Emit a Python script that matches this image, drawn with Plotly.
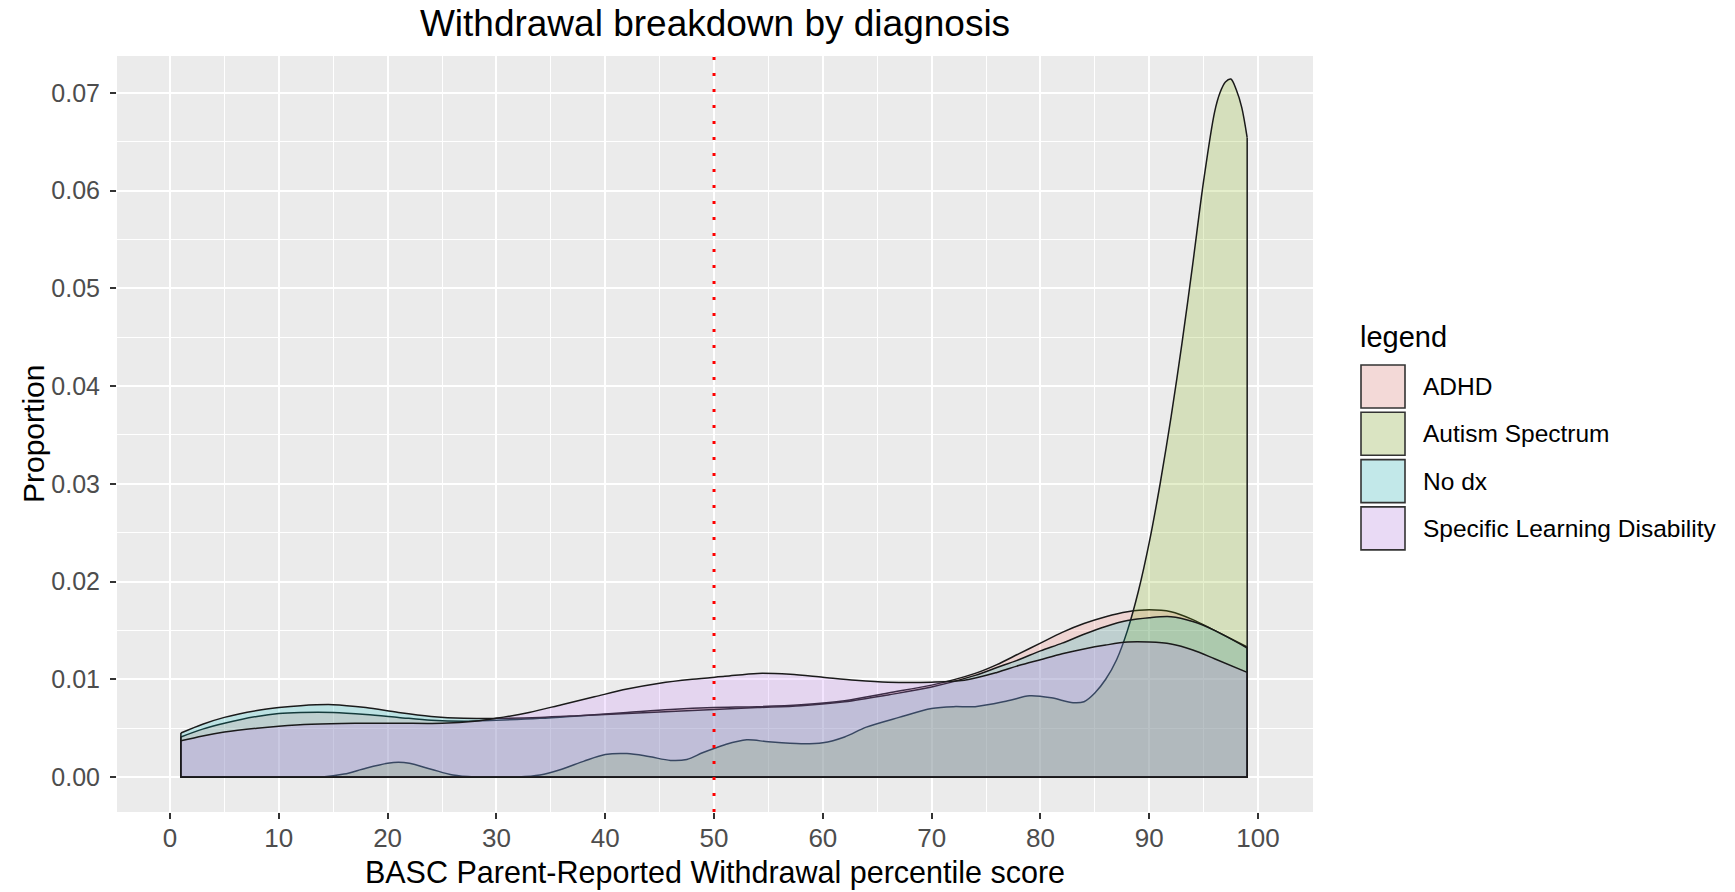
import plotly.graph_objects as go

# ---------------- data ----------------
CATEGORIES = ["ADHD", "Autism Spectrum", "No dx", "Specific Learning Disability"]
COLORS = ["#F8766D", "#7CAE00", "#00BFC4", "#C77CFF"]

ADHD_X = [1, 3, 5, 8, 10, 12, 15, 18, 21, 24, 27, 30, 34, 38, 42, 46, 50, 54, 58, 62,
          66, 70, 74, 76, 78, 80, 82, 84, 86, 88, 90, 92, 94, 96, 99]
ADHD_Y = [0.0041, 0.0049, 0.0055, 0.0062, 0.0065, 0.0066, 0.0066, 0.0064, 0.0061, 0.0058,
          0.0057, 0.0058, 0.0060, 0.0063, 0.0066, 0.0069, 0.0071, 0.0072, 0.0074, 0.0078,
          0.0086, 0.0094, 0.0106, 0.0115, 0.0126, 0.0137, 0.0148, 0.0157, 0.0164, 0.0169,
          0.0171, 0.0169, 0.0161, 0.0150, 0.0133]

NODX_X = [1, 3, 5, 8, 10, 12, 15, 18, 21, 24, 27, 30, 34, 38, 42, 46, 50, 54, 58, 62,
          66, 70, 74, 76, 78, 80, 82, 84, 86, 88, 90, 92, 94, 96, 99]
NODX_Y = [0.0045, 0.0054, 0.0061, 0.0068, 0.0071, 0.0073, 0.0074, 0.0071, 0.0066, 0.0062,
          0.0060, 0.0060, 0.0061, 0.0063, 0.0065, 0.0067, 0.0069, 0.0071, 0.0073, 0.0077,
          0.0084, 0.0092, 0.0104, 0.0112, 0.0120, 0.0129, 0.0137, 0.0146, 0.0154, 0.0160,
          0.0163, 0.0164, 0.0159, 0.0150, 0.0132]

SLD_X = [1, 3, 5, 8, 10, 13, 17, 21, 25, 28, 30, 33, 36, 39, 42, 45, 48, 51, 54, 57,
         60, 63, 66, 70, 73, 76, 78, 80, 82, 84, 86, 88, 90, 92, 94, 96, 99]
SLD_Y = [0.0037, 0.0042, 0.0046, 0.0050, 0.0052, 0.0054, 0.0055, 0.0055, 0.0055, 0.0057,
         0.0060, 0.0066, 0.0074, 0.0082, 0.0090, 0.0096, 0.0100, 0.0103, 0.0106, 0.0105,
         0.0102, 0.0099, 0.0097, 0.0097, 0.0099, 0.0107, 0.0114, 0.0120, 0.0126, 0.0131,
         0.0135, 0.0138, 0.0138, 0.0136, 0.0130, 0.0121, 0.0107]

AUT_X = [1, 6, 11, 14, 16, 18, 20, 21, 22, 24, 26, 28, 30, 32, 34, 36, 38, 40, 42, 44,
         46, 47.5, 49, 51, 53, 55, 58, 60, 62, 64, 67, 70, 72, 74, 77, 79, 81, 83, 84, 85,
         86, 87, 88, 89, 90, 91, 92, 93, 94, 95, 96, 96.5, 97, 97.5, 98, 98.5, 99]
AUT_Y = [0, 0, 0, 0, 0.0003, 0.0009, 0.0014, 0.0015, 0.0014, 0.0008,
         0.0002, 0, 0, 0, 0.0002, 0.0008, 0.0016, 0.0023, 0.0024, 0.0021,
         0.0017, 0.0018, 0.0025, 0.0033, 0.0038, 0.0036, 0.0034, 0.0035, 0.0041, 0.0051,
         0.0061, 0.0070, 0.0072, 0.0072, 0.0078, 0.0083, 0.0081, 0.0076, 0.0077, 0.0086,
         0.0100, 0.0120, 0.0150, 0.0190, 0.0240, 0.0300, 0.0368, 0.0443, 0.0525, 0.0610,
         0.0680, 0.0700, 0.0711, 0.0714, 0.0703, 0.0685, 0.0654]

SERIES_X = [ADHD_X, AUT_X, NODX_X, SLD_X]
SERIES_Y = [ADHD_Y, AUT_Y, NODX_Y, SLD_Y]

CUTOFF = 50
X_TICKS = [0, 10, 20, 30, 40, 50, 60, 70, 80, 90, 100]
Y_TICKS = [0.00, 0.01, 0.02, 0.03, 0.04, 0.05, 0.06, 0.07]
Y_TICK_LABELS = ["0.00", "0.01", "0.02", "0.03", "0.04", "0.05", "0.06", "0.07"]

TITLE = "Withdrawal breakdown by diagnosis"
X_TITLE = "BASC Parent-Reported Withdrawal percentile score"
Y_TITLE = "Proportion"
LEGEND_TITLE = "legend"

# ---------------- styling ----------------
FONT = "Liberation Sans, Arial, sans-serif"
ALPHA = 0.2
W, H = 1735, 892
L, R, T, B = 117, 422, 56, 80
PANEL_BG = "#EBEBEB"
OUTLINE = "#1a1a1a"


def hex_rgb(h):
    h = h.lstrip("#")
    return tuple(int(h[i:i + 2], 16) for i in (0, 2, 4))


def rgba(h, a):
    r, g, b = hex_rgb(h)
    return f"rgba({r},{g},{b},{a})"


def blend(h, a, bg=(242, 242, 242)):
    r, g, b = hex_rgb(h)
    return "rgb({},{},{})".format(*[round(a * c + (1 - a) * k) for c, k in zip((r, g, b), bg)])


fig = go.Figure()

for name, col, xs, ys in zip(CATEGORIES, COLORS, SERIES_X, SERIES_Y):
    fig.add_trace(go.Scatter(
        x=xs, y=ys, name=name, mode="lines",
        line=dict(color=OUTLINE, width=1.5, shape="spline", smoothing=0.9),
        fill="tozeroy", fillcolor=rgba(col, ALPHA),
        showlegend=False, hoverinfo="x+y+name",
    ))
    # closing edges of the density polygon (left edge, baseline, right edge)
    fig.add_trace(go.Scatter(
        x=[xs[0], xs[0], xs[-1], xs[-1]], y=[ys[0], 0, 0, ys[-1]],
        mode="lines", line=dict(color=OUTLINE, width=1.5),
        showlegend=False, hoverinfo="skip",
    ))

# red dotted cut-off line
fig.add_shape(type="line", xref="x", yref="paper", x0=CUTOFF, x1=CUTOFF, y0=0, y1=1,
              line=dict(color="red", width=3, dash="3px,13px"), layer="above")

# ---------------- manual ggplot-style legend (page pixel positions) ----------------
pw = W - L - R
ph = H - T - B


def px_to_paper_x(px):
    return (px - L) / pw


def px_to_paper_y(py):
    return (H - B - py) / ph


key_left, key_w, key_h, key_step, key_top0 = 1361, 44, 43, 47.3, 365
fig.add_annotation(text=LEGEND_TITLE, xref="paper", yref="paper",
                   x=px_to_paper_x(1358), y=px_to_paper_y(337), xanchor="left", yanchor="middle",
                   showarrow=False, font=dict(family=FONT, size=29, color="black"))
for i, (name, col) in enumerate(zip(CATEGORIES, COLORS)):
    top = key_top0 + i * key_step
    fig.add_shape(type="rect", xref="paper", yref="paper",
                  x0=px_to_paper_x(key_left), x1=px_to_paper_x(key_left + key_w),
                  y0=px_to_paper_y(top + key_h), y1=px_to_paper_y(top),
                  fillcolor=blend(col, ALPHA), line=dict(color="#333333", width=1.6), layer="above")
    fig.add_annotation(text=name, xref="paper", yref="paper",
                       x=px_to_paper_x(1421), y=px_to_paper_y(top + key_h / 2),
                       xanchor="left", yanchor="middle", showarrow=False,
                       font=dict(family=FONT, size=24.5, color="black"))

# y-axis title placed like ggplot's (close to the tick labels)
fig.add_annotation(text=Y_TITLE, xref="paper", yref="paper",
                   x=px_to_paper_x(33), y=0.5, xanchor="center", yanchor="middle",
                   textangle=-90, showarrow=False,
                   font=dict(family=FONT, size=30, color="black"))

fig.update_layout(
    width=W, height=H,
    margin=dict(l=L, r=R, t=T, b=B, autoexpand=False),
    paper_bgcolor="white", plot_bgcolor=PANEL_BG,
    font=dict(family=FONT, color="black"),
    title=dict(text=TITLE, x=(L + pw / 2) / W, xanchor="center",
               y=1 - 23 / H, yanchor="middle",
               font=dict(family=FONT, size=37, color="black")),
    showlegend=False,
    xaxis=dict(
        range=[-4.87, 105.05], tickmode="array", tickvals=X_TICKS,
        ticks="outside", ticklen=6, tickwidth=1.5, tickcolor="#333333",
        tickfont=dict(family=FONT, size=26, color="#4D4D4D"), ticklabelstandoff=-3,
        showgrid=True, gridcolor="white", gridwidth=2.2,
        minor=dict(dtick=5, tick0=0, showgrid=True, gridcolor="white", gridwidth=1.1, ticks=""),
        zeroline=False, showline=False, automargin=False,
        title=dict(text=X_TITLE, font=dict(family=FONT, size=30.5, color="black"), standoff=9),
    ),
    yaxis=dict(
        range=[-0.00358, 0.07376], tickmode="array", tickvals=Y_TICKS, ticktext=Y_TICK_LABELS,
        ticks="outside", ticklen=6, tickwidth=1.5, tickcolor="#333333",
        tickfont=dict(family=FONT, size=25, color="#4D4D4D"), ticklabelstandoff=5,
        showgrid=True, gridcolor="white", gridwidth=2.2,
        minor=dict(dtick=0.005, tick0=0, showgrid=True, gridcolor="white", gridwidth=1.1, ticks=""),
        zeroline=False, showline=False, automargin=False,
    ),
)

PIN_PAGE = ("document.body.style.margin='0';"
            "var d=document.getElementById('{plot_id}');"
            "d.style.position='fixed';d.style.left='0px';d.style.top='0px';")

fig.write_html("out.html", config={"displayModeBar": False}, post_script=PIN_PAGE)
